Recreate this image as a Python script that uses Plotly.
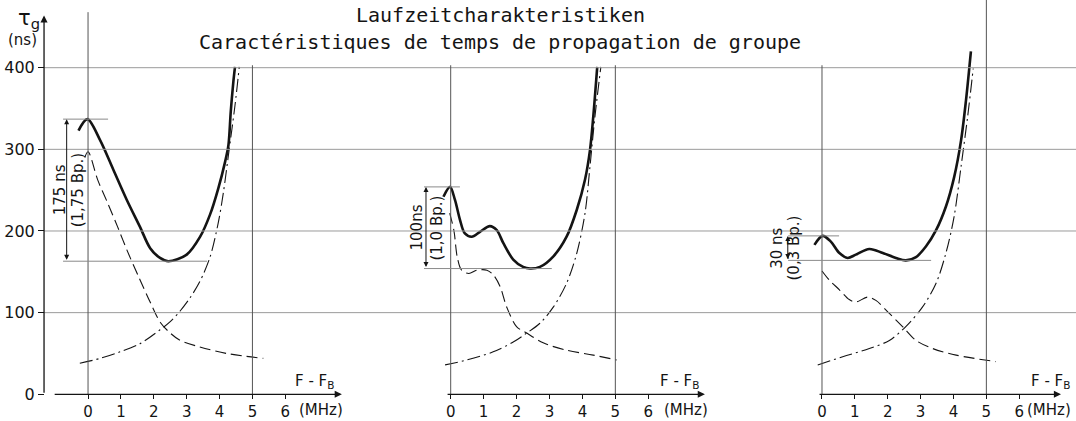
import plotly.graph_objects as go

# ---------------- data (x: F-F_B in MHz, y: group delay in ns) ----------------
p1_solid_x = [-0.29, -0.02, 0.37, 0.77, 1.18, 1.58, 1.89, 2.19, 2.44, 3.00, 3.41, 3.71, 3.96, 4.17, 4.27, 4.34, 4.42, 4.47]
p1_solid_y = [323, 337, 311, 275, 238, 205, 179, 167, 163, 171, 193, 220, 252, 285, 305, 346, 383, 401]
p1_dash_x = [-0.10, 0.00, 0.30, 0.60, 0.90, 1.20, 1.55, 1.90, 2.20, 2.50, 2.80, 3.40, 4.22, 5.33]
p1_dash_y = [290, 297, 262, 234, 205, 175, 143, 112, 88, 75, 66, 58, 50, 44]
p1_dd_x = [-0.25, 0.37, 0.97, 1.58, 2.19, 2.50, 2.80, 3.10, 3.40, 3.71, 3.96, 4.12, 4.27, 4.47, 4.60]
p1_dd_y = [38, 44, 52, 62, 79, 89, 102, 118, 138, 168, 210, 248, 293, 354, 401]

p2_solid_x = [-0.22, -0.02, 0.13, 0.28, 0.43, 0.64, 0.89, 1.19, 1.40, 1.60, 1.90, 2.20, 2.41, 2.71, 3.12, 3.52, 3.83, 4.08, 4.23, 4.33, 4.45]
p2_solid_y = [242, 254, 238, 214, 197, 193, 199, 206, 201, 185, 165, 156, 154, 156, 169, 193, 226, 263, 299, 340, 401]
p2_dash_x = [-0.03, 0.10, 0.20, 0.33, 0.55, 0.80, 1.10, 1.30, 1.50, 1.70, 2.00, 2.31, 2.81, 3.52, 4.33, 5.04]
p2_dash_y = [222, 200, 168, 152, 148, 152, 152, 146, 132, 107, 83, 75, 63, 54, 48, 42]
p2_dd_x = [-0.17, 0.49, 1.29, 1.90, 2.31, 2.71, 3.12, 3.52, 3.83, 4.08, 4.23, 4.38, 4.56]
p2_dd_y = [36, 42, 52, 64, 75, 87, 107, 136, 173, 222, 279, 340, 401]

p3_solid_x = [-0.23, 0.02, 0.27, 0.53, 0.78, 1.03, 1.44, 1.85, 2.25, 2.55, 2.86, 3.16, 3.47, 3.77, 4.02, 4.23, 4.38, 4.53]
p3_solid_y = [183, 194, 187, 173, 167, 171, 178, 173, 167, 164, 168, 181, 201, 230, 266, 311, 360, 420]
p3_dash_x = [0.00, 0.22, 0.53, 0.83, 1.03, 1.39, 1.64, 2.05, 2.45, 2.86, 3.37, 4.08, 5.29]
p3_dash_y = [151, 140, 128, 116, 113, 119, 115, 99, 83, 66, 56, 48, 40]
p3_dd_x = [-0.13, 0.63, 1.44, 2.05, 2.55, 3.06, 3.47, 3.77, 4.02, 4.23, 4.43, 4.60]
p3_dd_y = [36, 46, 56, 66, 83, 107, 136, 173, 218, 279, 340, 399]

spread_text = ["175 ns", "100ns", "30 ns"]
spread_bp = ["(1,75 Bp.)", "(1,0 Bp.)", "(0,3 Bp.)"]

x_ticks = [0, 1, 2, 3, 4, 5, 6]
y_ticks = [0, 100, 200, 300, 400]
title_de = "Laufzeitcharakteristiken"
title_fr = "Caractéristiques de temps de propagation de groupe"

# ---------------- figure ----------------
INK = "#141414"
FONT = "DejaVu Sans"
MONO = "DejaVu Sans Mono"

panels = [
    dict(ax="x", solid=(p1_solid_x, p1_solid_y), dash=(p1_dash_x, p1_dash_y), dd=(p1_dd_x, p1_dd_y)),
    dict(ax="x2", solid=(p2_solid_x, p2_solid_y), dash=(p2_dash_x, p2_dash_y), dd=(p2_dd_x, p2_dd_y)),
    dict(ax="x3", solid=(p3_solid_x, p3_solid_y), dash=(p3_dash_x, p3_dash_y), dd=(p3_dd_x, p3_dd_y)),
]

fig = go.Figure()
for p in panels:
    fig.add_trace(go.Scatter(x=p["dd"][0], y=p["dd"][1], xaxis=p["ax"], yaxis="y", mode="lines",
                             line=dict(color=INK, width=1.1, dash="13px,4px,2px,4px", shape="spline", smoothing=0.9),
                             hoverinfo="skip", showlegend=False))
    fig.add_trace(go.Scatter(x=p["dash"][0], y=p["dash"][1], xaxis=p["ax"], yaxis="y", mode="lines",
                             line=dict(color=INK, width=1.1, dash="11px,5px", shape="spline", smoothing=0.9),
                             hoverinfo="skip", showlegend=False))
    fig.add_trace(go.Scatter(x=p["solid"][0], y=p["solid"][1], xaxis=p["ax"], yaxis="y", mode="lines",
                             line=dict(color=INK, width=2.6, shape="spline", smoothing=0.9),
                             hoverinfo="skip", showlegend=False))

shapes = []
annotations = []

# horizontal grid lines across the whole drawing
for v in y_ticks[1:]:
    shapes.append(dict(type="line", xref="paper", yref="y", x0=0.041, x1=1.0, y0=v, y1=v,
                       line=dict(color="#9a9a9a", width=1)))

# vertical reference lines at 0 and 5 MHz
vert_tops = [(468, 403), (403, 403), (403, 483)]
for p, tops in zip(panels, vert_tops):
    for xv, top in zip([0, 5], tops):
        shapes.append(dict(type="line", xref=p["ax"], yref="y", x0=xv, x1=xv, y0=0, y1=top,
                           line=dict(color="#555555", width=1)))

# axis arrows (x)
x_arrow = [(-1.06, 7.72), (-0.14, 7.72), (-0.12, 7.27)]
for p, (xa, xb) in zip(panels, x_arrow):
    annotations.append(dict(xref=p["ax"], yref="y", x=xb, y=0, axref=p["ax"], ayref="y", ax=xa, ay=0,
                            text="", showarrow=True, arrowhead=2, arrowsize=1.1, arrowwidth=1.3,
                            arrowcolor=INK))
# y axis arrow (drawn on panel 1's x scale at the y-axis position)
Y_AXIS_X = -1.338
annotations.append(dict(xref="x", yref="y", x=Y_AXIS_X, y=464, axref="x", ayref="y", ax=Y_AXIS_X, ay=0,
                        text="", showarrow=True, arrowhead=2, arrowsize=1.1, arrowwidth=1.3, arrowcolor=INK))

# F-F_B and (MHz) labels
ffb_x = [6.9, 6.95, 6.95]
mhz_x = [7.1, 7.16, 6.92]
for p, fx, mx in zip(panels, ffb_x, mhz_x):
    annotations.append(dict(xref=p["ax"], yref="y", x=fx, y=16, text="F - F<sub>B</sub>", showarrow=False,
                            font=dict(family=FONT, size=15, color=INK)))
    annotations.append(dict(xref=p["ax"], yref="y", x=mx, y=-19, text="(MHz)", showarrow=False,
                            font=dict(family=FONT, size=15, color=INK)))

# dimension marks for the ripple of each solid curve
dim_x = [-0.65, -0.75, -1.04]
ext_x0 = [-0.76, -0.81, -1.03]
ext_top = [0.61, 0.28, 0.52]
ext_bot = [3.62, 3.07, 3.32]
txt1_x = [-0.85, -1.03, -1.35]
txt2_x = [-0.30, -0.42, -0.84]
for i, p in enumerate(panels):
    sx, sy = p["solid"]
    peak = max(y for x, y in zip(sx, sy) if x < 0.5)
    trough = min(sy)
    shapes.append(dict(type="line", xref=p["ax"], yref="y", x0=ext_x0[i], x1=ext_top[i], y0=peak, y1=peak,
                       line=dict(color="#8a8a8a", width=1)))
    shapes.append(dict(type="line", xref=p["ax"], yref="y", x0=ext_x0[i], x1=ext_bot[i], y0=trough, y1=trough,
                       line=dict(color="#8a8a8a", width=1)))
    annotations.append(dict(xref=p["ax"], yref="y", x=dim_x[i], y=peak, axref=p["ax"], ayref="y",
                            ax=dim_x[i], ay=trough, text="", showarrow=True, arrowside="end+start",
                            arrowhead=2, startarrowhead=2, arrowsize=1, arrowwidth=1, arrowcolor=INK))
    mid = (peak + trough) / 2
    annotations.append(dict(xref=p["ax"], yref="y", x=txt1_x[i], y=mid, text=spread_text[i], textangle=-90,
                            showarrow=False, font=dict(family=FONT, size=15, color=INK)))
    annotations.append(dict(xref=p["ax"], yref="y", x=txt2_x[i], y=mid, text=spread_bp[i], textangle=-90,
                            showarrow=False, font=dict(family=FONT, size=15, color=INK)))

# titles and y label
annotations.append(dict(xref="paper", yref="paper", x=0.4647, y=0.9644, text=title_de, showarrow=False,
                        xanchor="center", yanchor="middle", font=dict(family=MONO, size=20, color=INK)))
annotations.append(dict(xref="paper", yref="paper", x=0.4647, y=0.9002, text=title_fr, showarrow=False,
                        xanchor="center", yanchor="middle", font=dict(family=MONO, size=20, color=INK)))
annotations.append(dict(xref="paper", yref="paper", x=0.0265, y=0.956, text="τ<sub>g</sub>", showarrow=False,
                        xanchor="center", yanchor="middle", font=dict(family=FONT, size=21, color=INK)))
annotations.append(dict(xref="paper", yref="paper", x=0.021, y=0.905, text="(ns)", showarrow=False,
                        xanchor="center", yanchor="middle", font=dict(family=FONT, size=15, color=INK)))

xcommon = dict(anchor="free", position=0.0634, tickvals=x_ticks, ticks="outside", ticklen=4, tickwidth=1,
               tickcolor=INK, showgrid=False, zeroline=False, showline=False,
               tickfont=dict(family=FONT, size=15, color=INK), fixedrange=True)

fig.update_layout(
    width=1076, height=421,
    margin=dict(l=0, r=0, t=0, b=0, autoexpand=False),
    paper_bgcolor="white", plot_bgcolor="white",
    showlegend=False,
    xaxis=dict(domain=[0.0372, 0.3253], range=[-1.460, 7.968], **xcommon),
    xaxis2=dict(domain=[0.3671, 0.6617], range=[-1.691, 7.935], **xcommon),
    xaxis3=dict(domain=[0.7063, 0.9981], range=[-1.886, 7.664], **xcommon),
    yaxis=dict(domain=[0, 1], range=[-32.7, 482.9], anchor="free", position=0.0409, side="left",
               tickvals=y_ticks, ticks="outside", ticklen=6, tickwidth=1, tickcolor=INK,
               showgrid=False, zeroline=False, showline=False,
               tickfont=dict(family=FONT, size=16, color=INK), fixedrange=True),
    shapes=shapes,
    annotations=annotations,
)

fig.write_html("out.html", config={"displayModeBar": False},
               post_script="document.body.style.margin='0';document.body.style.overflow='hidden';")
